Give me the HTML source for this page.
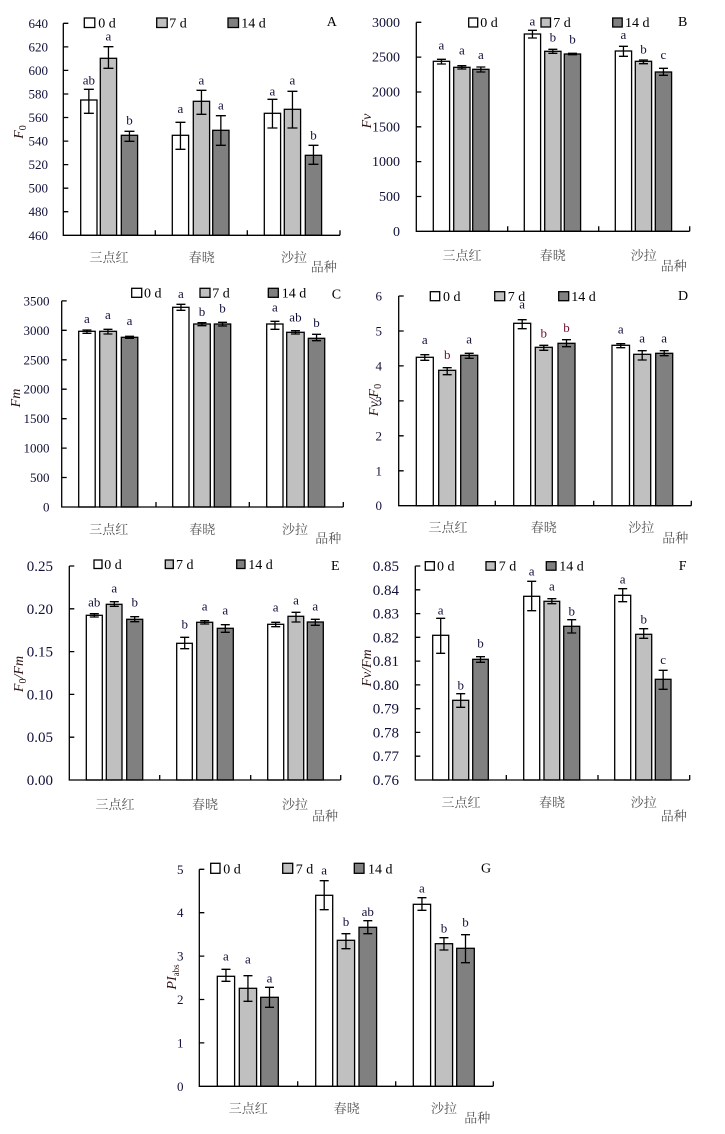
<!DOCTYPE html>
<html><head><meta charset="utf-8"><style>
html,body{margin:0;padding:0;background:#fff}
svg{display:block}
.w{fill:#fff;stroke:#000;stroke-width:1.3}
.g{fill:#c0c0c0;stroke:#000;stroke-width:1.3}
.d{fill:#808080;stroke:#000;stroke-width:1.3}
.ax{stroke:#000;stroke-width:1.3;fill:none}
.eb{stroke:#000;stroke-width:1.3;fill:none}
.tk{font-family:"Liberation Serif",serif;font-size:13px;fill:#10103a;text-anchor:end}
.lt{font-family:"Liberation Serif",serif;font-size:13px;fill:#10103a;text-anchor:middle}
.lg{font-family:"Liberation Serif",serif;font-size:14px;fill:#000}
.pl{font-family:"Liberation Serif",serif;font-size:14px;fill:#000}
.cat{font-family:"Liberation Serif","Noto Serif CJK SC",serif;font-size:13px;fill:#555;text-anchor:middle}
.yl{font-family:"Liberation Serif",serif;font-style:italic;font-size:14px;fill:#2a1010;text-anchor:middle}
</style></head><body>
<svg width="725" height="1134" viewBox="0 0 725 1134" xmlns="http://www.w3.org/2000/svg">
<rect width="725" height="1134" fill="#fff"/>

<!-- ================= A ================= -->
<g>
<rect class="w" x="80.7" y="100" width="16.3" height="135.3"/>
<rect class="g" x="100.3" y="58.3" width="16.3" height="177"/>
<rect class="d" x="121.3" y="135.3" width="16.3" height="100"/>
<rect class="w" x="172.3" y="135.3" width="16.3" height="100"/>
<rect class="g" x="193.3" y="101.3" width="16.3" height="134"/>
<rect class="d" x="212.7" y="130.3" width="16.3" height="105"/>
<rect class="w" x="264.3" y="113.3" width="16.3" height="122"/>
<rect class="g" x="284.3" y="109.3" width="16.3" height="126"/>
<rect class="d" x="305.3" y="155.3" width="16.3" height="80"/>
<path class="eb" d="M88.85 89.3V113.3M83.85 89.3h10M83.85 113.3h10M108.45 46.7V68.3M103.45 46.7h10M103.45 68.3h10M129.45 131.3V141.3M124.45 131.3h10M124.45 141.3h10M180.45 122.3V149.3M175.45 122.3h10M175.45 149.3h10M201.45 90.3V114.3M196.45 90.3h10M196.45 114.3h10M220.85 115.7V145.3M215.85 115.7h10M215.85 145.3h10M272.45 99.3V128M267.45 99.3h10M267.45 128h10M292.45 91.3V128M287.45 91.3h10M287.45 128h10M313.45 145.3V164.3M308.45 145.3h10M308.45 164.3h10"/>
<path class="ax" d="M63.3 23.3V235.3H340M63.3 23.3h5M63.3 46.9h5M63.3 70.4h5M63.3 94h5M63.3 117.5h5M63.3 141.1h5M63.3 164.6h5M63.3 188.2h5M63.3 211.7h5M155.3 235.3v-5M247.3 235.3v-5M340 235.3v-5"/>
<text class="tk" x="48" y="27.8">640</text><text class="tk" x="48" y="51.4">620</text><text class="tk" x="48" y="74.9">600</text><text class="tk" x="48" y="98.5">580</text><text class="tk" x="48" y="122">560</text><text class="tk" x="48" y="145.6">540</text><text class="tk" x="48" y="169.1">520</text><text class="tk" x="48" y="192.7">500</text><text class="tk" x="48" y="216.2">480</text><text class="tk" x="48" y="239.8">460</text>
<text class="lt" x="88.85" y="84.4">ab</text><text class="lt" x="108.45" y="40.7">a</text><text class="lt" x="129.45" y="124.4">b</text>
<text class="lt" x="180.45" y="113">a</text><text class="lt" x="201.45" y="84.7">a</text><text class="lt" x="220.85" y="109.7">a</text>
<text class="lt" x="272.45" y="95.3">a</text><text class="lt" x="292.45" y="84.7">a</text><text class="lt" x="313.45" y="139.4">b</text>
<rect class="w" x="84.3" y="18" width="10.5" height="9.5"/><text class="lg" x="98.3" y="27.5">0 d</text>
<rect class="g" x="156.7" y="18" width="10.5" height="9.5"/><text class="lg" x="169.3" y="27.5">7 d</text>
<rect class="d" x="228" y="18" width="10.5" height="9.5"/><text class="lg" x="241.3" y="27.5">14 d</text>
<text class="pl" x="326.7" y="26">A</text>
<text class="cat" x="109" y="262">三点红</text><text class="cat" x="201.7" y="262">春晓</text><text class="cat" x="294" y="262">沙拉</text><text class="cat" x="323.7" y="271.5">品种</text>
<text class="yl" transform="translate(23,132) rotate(-90)">F<tspan font-size="10" font-style="normal" dy="3">0</tspan></text>
</g>

<!-- ================= B ================= -->
<g>
<rect class="w" x="433.3" y="61.3" width="16.3" height="170"/>
<rect class="g" x="453.7" y="67.3" width="16.3" height="164"/>
<rect class="d" x="472.7" y="69.3" width="16.3" height="162"/>
<rect class="w" x="524.3" y="34" width="16.3" height="197.3"/>
<rect class="g" x="544.7" y="51.3" width="16.3" height="180"/>
<rect class="d" x="564.3" y="54" width="16.3" height="177.3"/>
<rect class="w" x="615.3" y="51" width="16.3" height="180.3"/>
<rect class="g" x="635.3" y="61.3" width="16.3" height="170"/>
<rect class="d" x="655.3" y="72" width="16.3" height="159.3"/>
<path class="eb" d="M441.45 59.3V64M436.95 59.3h9M436.95 64h9M461.85 65.7V69M457.35 65.7h9M457.35 69h9M480.85 67V72M476.35 67h9M476.35 72h9M532.45 30.3V38M527.95 30.3h9M527.95 38h9M552.85 49.3V53.3M548.35 49.3h9M548.35 53.3h9M572.45 53.3V54.7M567.95 53.3h9M567.95 54.7h9M623.45 46.3V56.3M618.95 46.3h9M618.95 56.3h9M643.45 60V63.7M638.95 60h9M638.95 63.7h9M663.45 68.3V75.3M658.95 68.3h9M658.95 75.3h9"/>
<path class="ax" d="M416.3 22.3V231.3H689.7M416.3 22.3h5M416.3 57.1h5M416.3 92h5M416.3 126.8h5M416.3 161.6h5M416.3 196.5h5M507.7 231.3v-5M598.7 231.3v-5M689.7 231.3v-5"/>
<g style="font-size:14px">
<text class="tk" x="400" y="26.8" style="font-size:14px">3000</text><text class="tk" x="400" y="61.6" style="font-size:14px">2500</text><text class="tk" x="400" y="96.5" style="font-size:14px">2000</text><text class="tk" x="400" y="131.3" style="font-size:14px">1500</text><text class="tk" x="400" y="166.1" style="font-size:14px">1000</text><text class="tk" x="400" y="201" style="font-size:14px">500</text><text class="tk" x="400" y="235.8" style="font-size:14px">0</text>
</g>
<text class="lt" x="441.45" y="49.7">a</text><text class="lt" x="461.85" y="54.7">a</text><text class="lt" x="480.85" y="59">a</text>
<text class="lt" x="532.45" y="25.3">a</text><text class="lt" x="552.85" y="41.7">b</text><text class="lt" x="572.45" y="43.7">b</text>
<text class="lt" x="623.45" y="39">a</text><text class="lt" x="643.45" y="53.7">b</text><text class="lt" x="663.45" y="59">c</text>
<rect class="w" x="468.7" y="18" width="9" height="9"/><text class="lg" x="480.3" y="27">0 d</text>
<rect class="g" x="541" y="18" width="9.5" height="9"/><text class="lg" x="553.3" y="27">7 d</text>
<rect class="d" x="612.7" y="18" width="9.5" height="9"/><text class="lg" x="625" y="27">14 d</text>
<text class="pl" x="678" y="26">B</text>
<text class="cat" x="462" y="260">三点红</text><text class="cat" x="552.7" y="260">春晓</text><text class="cat" x="643.7" y="260">沙拉</text><text class="cat" x="673.7" y="270.5">品种</text>
<text class="yl" transform="translate(371,121) rotate(-90)">Fv</text>
</g>

<!-- ================= C ================= -->
<g>
<rect class="w" x="78.7" y="331.3" width="16.5" height="175.7"/>
<rect class="g" x="99.7" y="331.3" width="16.8" height="175.7"/>
<rect class="d" x="121.3" y="337.3" width="16.5" height="169.7"/>
<rect class="w" x="172.7" y="307.3" width="16.3" height="199.7"/>
<rect class="g" x="193.7" y="324" width="16.6" height="183"/>
<rect class="d" x="214.3" y="324" width="16.4" height="183"/>
<rect class="w" x="266.7" y="324" width="16.3" height="183"/>
<rect class="g" x="286.7" y="332.3" width="17.5" height="174.7"/>
<rect class="d" x="308.3" y="338.3" width="16.4" height="168.7"/>
<path class="eb" d="M86.95 330V333.3M82.45 330h9M82.45 333.3h9M107.95 329.3V334M103.45 329.3h9M103.45 334h9M129.55 336.3V338.3M125.05 336.3h9M125.05 338.3h9M180.95 304.3V310.3M176.45 304.3h9M176.45 310.3h9M201.95 322.7V325.7M197.45 322.7h9M197.45 325.7h9M222.55 322.3V326M218.05 322.3h9M218.05 326h9M274.95 321.3V329.3M270.45 321.3h9M270.45 329.3h9M295.45 330.7V334M290.95 330.7h9M290.95 334h9M316.55 334.3V340.7M312.05 334.3h9M312.05 340.7h9"/>
<path class="ax" d="M61.7 300.9V507H343.3M61.7 300.9h5M61.7 330.3h5M61.7 359.8h5M61.7 389.2h5M61.7 418.7h5M61.7 448.1h5M61.7 477.5h5M156 507v-5M249.3 507v-5M343.3 507v-5"/>
<text class="tk" x="49.5" y="305.4">3500</text><text class="tk" x="49.5" y="334.8">3000</text><text class="tk" x="49.5" y="364.3">2500</text><text class="tk" x="49.5" y="393.7">2000</text><text class="tk" x="49.5" y="423.2">1500</text><text class="tk" x="49.5" y="452.6">1000</text><text class="tk" x="49.5" y="482">500</text><text class="tk" x="49.5" y="511.5">0</text>
<text class="lt" x="86.95" y="323">a</text><text class="lt" x="107.95" y="319">a</text><text class="lt" x="129.55" y="325">a</text>
<text class="lt" x="180.95" y="298">a</text><text class="lt" x="201.95" y="316">b</text><text class="lt" x="222.55" y="312.7">b</text>
<text class="lt" x="274.95" y="311.3">a</text><text class="lt" x="295.45" y="321.7">ab</text><text class="lt" x="316.55" y="327">b</text>
<rect class="w" x="131.7" y="288.3" width="10" height="9"/><text class="lg" x="144" y="297.5">0 d</text>
<rect class="g" x="200" y="288.3" width="10" height="9"/><text class="lg" x="212.3" y="297.5">7 d</text>
<rect class="d" x="268.3" y="288.3" width="10" height="9"/><text class="lg" x="281.7" y="297.5">14 d</text>
<text class="pl" x="331.7" y="298.3">C</text>
<text class="cat" x="108.7" y="534">三点红</text><text class="cat" x="202.3" y="534">春晓</text><text class="cat" x="295" y="534">沙拉</text><text class="cat" x="328.3" y="543">品种</text>
<text class="yl" transform="translate(20,398) rotate(-90)">Fm</text>
</g>

<!-- ================= D ================= -->
<g>
<rect class="w" x="416.3" y="357.3" width="17" height="148.4"/>
<rect class="g" x="438.7" y="370.3" width="17" height="135.4"/>
<rect class="d" x="460.7" y="355.3" width="17" height="150.4"/>
<rect class="w" x="513.7" y="323.3" width="17" height="182.4"/>
<rect class="g" x="535.3" y="347.3" width="17" height="158.4"/>
<rect class="d" x="558" y="343.3" width="17" height="162.4"/>
<rect class="w" x="612" y="345.3" width="17.5" height="160.4"/>
<rect class="g" x="633.7" y="354.3" width="17" height="151.4"/>
<rect class="d" x="655.7" y="353.3" width="17" height="152.4"/>
<path class="eb" d="M424.8 354.7V360.3M420.3 354.7h9M420.3 360.3h9M447.2 367.7V374.7M442.7 367.7h9M442.7 374.7h9M469.2 353.3V358.3M464.7 353.3h9M464.7 358.3h9M522.2 319.7V328.7M517.7 319.7h9M517.7 328.7h9M543.8 345.3V350.3M539.3 345.3h9M539.3 350.3h9M566.5 339.7V346.7M562 339.7h9M562 346.7h9M620.75 343.7V347.7M616.25 343.7h9M616.25 347.7h9M642.2 350.7V360M637.7 350.7h9M637.7 360h9M664.2 350.7V355.7M659.7 350.7h9M659.7 355.7h9"/>
<path class="ax" d="M398.7 296V505.7H691.3M398.7 296h5M398.7 331h5M398.7 365.9h5M398.7 400.9h5M398.7 435.8h5M398.7 470.8h5M495.3 505.7v-5M593.7 505.7v-5M691.3 505.7v-5"/>
<text class="tk" x="382" y="300.5">6</text><text class="tk" x="382" y="335.5">5</text><text class="tk" x="382" y="370.4">4</text><text class="tk" x="382" y="405.4">3</text><text class="tk" x="382" y="440.3">2</text><text class="tk" x="382" y="475.3">1</text><text class="tk" x="382" y="510.2">0</text>
<text class="lt" x="424.8" y="344">a</text><text class="lt" x="447.2" y="359" style="fill:#6a0d2a">b</text><text class="lt" x="469.2" y="343.3">a</text>
<text class="lt" x="522.2" y="308.3">a</text><text class="lt" x="543.8" y="337.7" style="fill:#6a0d2a">b</text><text class="lt" x="566.5" y="332" style="fill:#6a0d2a">b</text>
<text class="lt" x="620.75" y="333.3">a</text><text class="lt" x="642.2" y="342.3">a</text><text class="lt" x="664.2" y="342.3">a</text>
<rect class="w" x="430.3" y="291.7" width="9.4" height="9"/><text class="lg" x="443" y="301">0 d</text>
<rect class="g" x="494.7" y="291.7" width="10" height="9"/><text class="lg" x="507.7" y="301">7 d</text>
<rect class="d" x="558.7" y="291.7" width="10" height="9"/><text class="lg" x="571.3" y="301">14 d</text>
<text class="pl" x="678" y="300">D</text>
<text class="cat" x="448" y="532">三点红</text><text class="cat" x="543.7" y="532">春晓</text><text class="cat" x="641.3" y="532">沙拉</text><text class="cat" x="675.3" y="542.5">品种</text>
<text class="yl" transform="translate(378,400) rotate(-90)">Fv/F<tspan font-size="10" font-style="normal" dy="3">0</tspan></text>
</g>

<!-- ================= E ================= -->
<g>
<rect class="w" x="86.3" y="615.3" width="16" height="164.7"/>
<rect class="g" x="106.3" y="604.3" width="15.7" height="175.7"/>
<rect class="d" x="126.7" y="619.3" width="16" height="160.7"/>
<rect class="w" x="176.7" y="643.3" width="15.6" height="136.7"/>
<rect class="g" x="196.7" y="622.3" width="16" height="157.7"/>
<rect class="d" x="217.3" y="628.3" width="16" height="151.7"/>
<rect class="w" x="267.7" y="624.3" width="16" height="155.7"/>
<rect class="g" x="288" y="616.3" width="15.7" height="163.7"/>
<rect class="d" x="307.3" y="622" width="16" height="158"/>
<path class="eb" d="M94.3 613.7V617M89.8 613.7h9M89.8 617h9M114.3 601.7V606.3M109.8 601.7h9M109.8 606.3h9M134.7 616.7V621.7M130.2 616.7h9M130.2 621.7h9M184.7 637.3V648.7M180.2 637.3h9M180.2 648.7h9M204.7 620.7V624M200.2 620.7h9M200.2 624h9M225.3 624.7V632.3M220.8 624.7h9M220.8 632.3h9M275.7 622.3V626.7M271.2 622.3h9M271.2 626.7h9M296 612.3V622M291.5 612.3h9M291.5 622h9M315.3 619.3V625.3M310.8 619.3h9M310.8 625.3h9"/>
<path class="ax" d="M69.3 566V780H340.7M69.3 566h5M69.3 608.8h5M69.3 651.6h5M69.3 694.4h5M69.3 737.2h5M159.7 780v-5M250.7 780v-5M340.7 780v-5"/>
<text class="tk" x="53" y="571" style="font-size:15px">0.25</text><text class="tk" x="53" y="613.8" style="font-size:15px">0.20</text><text class="tk" x="53" y="656.6" style="font-size:15px">0.15</text><text class="tk" x="53" y="699.4" style="font-size:15px">0.10</text><text class="tk" x="53" y="742.2" style="font-size:15px">0.05</text><text class="tk" x="53" y="785" style="font-size:15px">0.00</text>
<text class="lt" x="94.3" y="606.4">ab</text><text class="lt" x="114.3" y="592.3">a</text><text class="lt" x="134.7" y="606.7">b</text>
<text class="lt" x="184.7" y="628.4">b</text><text class="lt" x="204.7" y="610.3">a</text><text class="lt" x="225.3" y="614.3">a</text>
<text class="lt" x="275.7" y="611.7">a</text><text class="lt" x="296" y="604.7">a</text><text class="lt" x="315.3" y="610.3">a</text>
<rect class="w" x="94" y="560" width="8" height="8.5"/><text class="lg" x="104.3" y="569">0 d</text>
<rect class="g" x="165.3" y="560" width="8" height="8.5"/><text class="lg" x="176" y="569">7 d</text>
<rect class="d" x="236.7" y="560" width="8.3" height="8.5"/><text class="lg" x="248.3" y="569">14 d</text>
<text class="pl" x="331" y="570">E</text>
<text class="cat" x="115" y="809">三点红</text><text class="cat" x="205" y="809">春晓</text><text class="cat" x="295" y="809">沙拉</text><text class="cat" x="325" y="820.5">品种</text>
<text class="yl" transform="translate(23,674) rotate(-90)">F<tspan font-size="10" font-style="normal" dy="3">0</tspan><tspan dy="-3">/Fm</tspan></text>
</g>

<!-- ================= F ================= -->
<g>
<rect class="w" x="432.7" y="635.3" width="16" height="144.7"/>
<rect class="g" x="452.7" y="700.3" width="16" height="79.7"/>
<rect class="d" x="472.7" y="659.3" width="15.6" height="120.7"/>
<rect class="w" x="523.7" y="596.3" width="16" height="183.7"/>
<rect class="g" x="544" y="601.3" width="15.7" height="178.7"/>
<rect class="d" x="563.7" y="626.3" width="16" height="153.7"/>
<rect class="w" x="614.7" y="595.3" width="16" height="184.7"/>
<rect class="g" x="635.7" y="634.3" width="16" height="145.7"/>
<rect class="d" x="655.3" y="679.3" width="15.7" height="100.7"/>
<path class="eb" d="M440.7 618.3V653.3M436.2 618.3h9M436.2 653.3h9M460.7 693.7V707.3M456.2 693.7h9M456.2 707.3h9M480.5 656.7V662.3M476 656.7h9M476 662.3h9M531.7 581.3V610.7M527.2 581.3h9M527.2 610.7h9M551.85 598.7V603.7M547.35 598.7h9M547.35 603.7h9M571.7 619.7V633M567.2 619.7h9M567.2 633h9M622.7 588.7V601.7M618.2 588.7h9M618.2 601.7h9M643.7 628.7V638.3M639.2 628.7h9M639.2 638.3h9M663.15 670.3V689.3M658.65 670.3h9M658.65 689.3h9"/>
<path class="ax" d="M415.3 566V780H689.7M415.3 566h5M415.3 589.8h5M415.3 613.6h5M415.3 637.3h5M415.3 661.1h5M415.3 684.9h5M415.3 708.7h5M415.3 732.4h5M415.3 756.2h5M506.3 780v-5M598 780v-5M689.7 780v-5"/>
<text class="tk" x="399" y="571" style="font-size:15px">0.85</text><text class="tk" x="399" y="594.8" style="font-size:15px">0.84</text><text class="tk" x="399" y="618.6" style="font-size:15px">0.83</text><text class="tk" x="399" y="642.3" style="font-size:15px">0.82</text><text class="tk" x="399" y="666.1" style="font-size:15px">0.81</text><text class="tk" x="399" y="689.9" style="font-size:15px">0.80</text><text class="tk" x="399" y="713.7" style="font-size:15px">0.79</text><text class="tk" x="399" y="737.4" style="font-size:15px">0.78</text><text class="tk" x="399" y="761.2" style="font-size:15px">0.77</text><text class="tk" x="399" y="785" style="font-size:15px">0.76</text>
<text class="lt" x="440.7" y="614.3">a</text><text class="lt" x="460.7" y="689.4">b</text><text class="lt" x="480.5" y="647.7">b</text>
<text class="lt" x="531.7" y="575.7">a</text><text class="lt" x="551.85" y="590.3">a</text><text class="lt" x="571.7" y="615.4">b</text>
<text class="lt" x="622.7" y="583.7">a</text><text class="lt" x="643.7" y="623.4">b</text><text class="lt" x="663.15" y="664">c</text>
<rect class="w" x="425.3" y="561.7" width="9" height="8.5"/><text class="lg" x="437" y="570.5">0 d</text>
<rect class="g" x="486" y="561.7" width="9.3" height="8.5"/><text class="lg" x="498.7" y="570.5">7 d</text>
<rect class="d" x="546.3" y="561.7" width="9.7" height="8.5"/><text class="lg" x="559.3" y="570.5">14 d</text>
<text class="pl" x="678.7" y="570">F</text>
<text class="cat" x="461" y="807">三点红</text><text class="cat" x="552" y="807">春晓</text><text class="cat" x="643.7" y="807">沙拉</text><text class="cat" x="673.7" y="820.5">品种</text>
<text class="yl" transform="translate(371,668) rotate(-90)">Fv/Fm</text>
</g>

<!-- ================= G ================= -->
<g>
<rect class="w" x="217.3" y="976.3" width="17.3" height="110"/>
<rect class="g" x="239.3" y="988.3" width="17.3" height="98"/>
<rect class="d" x="260.7" y="997.3" width="17.6" height="89"/>
<rect class="w" x="315.7" y="895.3" width="17" height="191"/>
<rect class="g" x="337.3" y="940.3" width="17.3" height="146"/>
<rect class="d" x="359" y="927.3" width="17.6" height="159"/>
<rect class="w" x="413.3" y="904.3" width="17.3" height="182"/>
<rect class="g" x="435.3" y="943.7" width="17.3" height="142.6"/>
<rect class="d" x="456.7" y="948.3" width="17.6" height="138"/>
<path class="eb" d="M225.95 969.3V981.3M221.45 969.3h9M221.45 981.3h9M247.95 975.7V1001.3M243.45 975.7h9M243.45 1001.3h9M269.5 987.3V1007.3M265 987.3h9M265 1007.3h9M324.2 880.7V909.7M319.7 880.7h9M319.7 909.7h9M345.95 933.7V948.7M341.45 933.7h9M341.45 948.7h9M367.8 920.7V933.7M363.3 920.7h9M363.3 933.7h9M421.95 897.7V910.3M417.45 897.7h9M417.45 910.3h9M443.95 937.7V950M439.45 937.7h9M439.45 950h9M465.5 934.7V962.7M461 934.7h9M461 962.7h9"/>
<path class="ax" d="M199.3 869.3V1086.3H493.3M199.3 869.3h5M199.3 912.7h5M199.3 956.1h5M199.3 999.5h5M199.3 1042.9h5M297.7 1086.3v-5M395.7 1086.3v-5M493.3 1086.3v-5"/>
<text class="tk" x="183.5" y="873.8">5</text><text class="tk" x="183.5" y="917.2">4</text><text class="tk" x="183.5" y="960.6">3</text><text class="tk" x="183.5" y="1004">2</text><text class="tk" x="183.5" y="1047.4">1</text><text class="tk" x="183.5" y="1090.8">0</text>
<text class="lt" x="225.95" y="960.3">a</text><text class="lt" x="247.95" y="963.7">a</text><text class="lt" x="269.5" y="982.3">a</text>
<text class="lt" x="324.2" y="874.7">a</text><text class="lt" x="345.95" y="926">b</text><text class="lt" x="367.8" y="916">ab</text>
<text class="lt" x="421.95" y="892.3">a</text><text class="lt" x="443.95" y="932.7">b</text><text class="lt" x="465.5" y="926.7">b</text>
<rect class="w" x="210.7" y="863.3" width="9.3" height="10"/><text class="lg" x="223.3" y="873.5">0 d</text>
<rect class="g" x="282.7" y="863.3" width="10" height="10"/><text class="lg" x="295.7" y="873.5">7 d</text>
<rect class="d" x="354.3" y="863.3" width="9.7" height="10"/><text class="lg" x="368" y="873.5">14 d</text>
<text class="pl" x="481" y="872.3">G</text>
<text class="cat" x="248.3" y="1113">三点红</text><text class="cat" x="346.7" y="1113">春晓</text><text class="cat" x="444" y="1113">沙拉</text><text class="cat" x="477.3" y="1122.5">品种</text>
<text class="yl" transform="translate(176,977) rotate(-90)">PI<tspan font-size="9" font-style="normal" dy="3">abs</tspan></text>
</g>
</svg>
</body></html>
